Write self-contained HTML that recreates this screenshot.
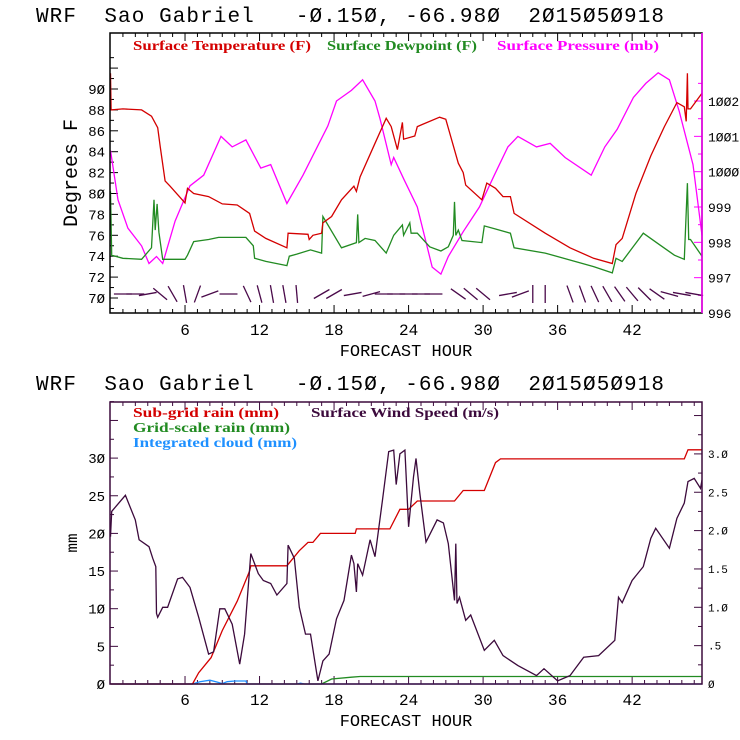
<!DOCTYPE html>
<html><head><meta charset="utf-8"><style>
html,body{margin:0;padding:0;background:#fff;width:740px;height:740px;overflow:hidden}
svg text{font-family:"Liberation Mono",monospace;white-space:pre}
.lg{font-family:"Liberation Serif",serif;font-size:14px;font-weight:bold}
</style></head><body>
<svg id="c" width="740" height="740" viewBox="0 0 740 740">
<text x="36" y="22" font-size="21" textLength="628" xml:space="preserve">WRF  Sao Gabriel   -Ø.15Ø, -66.98Ø  2Ø15Ø5Ø918</text>
<text x="36" y="390" font-size="21" textLength="628" xml:space="preserve">WRF  Sao Gabriel   -Ø.15Ø, -66.98Ø  2Ø15Ø5Ø918</text>
<g id="topchart"></g>
<g id="botchart"></g>
</svg>
<script>
// ---- top chart data ----
const tempHours=[0,0.05,1,2.5,3.3,3.8,4,4.4,4.8,6,6.2,6.7,7.9,9,10.2,11.2,11.6,12.5,14.2,14.3,15.9,16,16.3,17,17.1,17.8,18.6,19.6,19.8,20.1,21.3,22.2,22.6,23.1,23.5,23.6,24.5,24.7,25.1,26.5,27,28,28.4,28.6,29.9,30.3,31,31.6,32.2,32.5,35,37,38.9,40.4,40.7,41.2,42.3,43.5,44.6,45.6,46.2,46.35,46.45,46.5,46.7,48];
const tempVals=[91.5,88,88.1,88,87.4,86.3,84.5,81.2,80.7,79.1,80.5,80,79.7,79,78.9,78.1,76.4,75.7,74.8,76.2,76.1,75.6,76,76.2,77.2,77.8,79.4,80.7,80.2,81.6,84.8,87.2,86.4,84.2,86.8,85.2,85.5,86.4,86.6,87.3,87.1,82.9,82,80.8,79.4,81,80.5,79.7,79.7,78.1,76.2,74.8,73.8,73.3,75.1,75.7,80,83.6,86.4,88.7,88.3,86.9,91.5,88.1,88.1,89.6];
const dewHours=[0,0.1,1,2.5,3.3,3.5,3.6,3.75,3.9,4.2,6,6.2,6.7,7.9,8.7,10.9,11.5,11.6,12.5,14.2,14.4,15,16.1,17,17.1,18.6,19.8,19.9,20,20.5,21.3,22.2,22.8,23.5,23.6,24.1,24.2,24.7,25.7,26.6,27.2,27.6,27.7,27.8,28,28.3,29.9,30.1,31,32.2,32.5,35,38.9,40.4,40.7,41.2,42.9,44.2,45.4,46.2,46.45,46.55,46.7,48];
const dewVals=[80.2,74.1,73.8,73.7,74.8,79.4,76.5,79,76.3,73.7,73.7,74.1,75.4,75.6,75.8,75.8,75,73.8,73.5,73.1,74,74.2,74.6,74.3,77.8,74.8,75.3,78,75.3,75.7,75.5,74.3,76,77,76,77.2,76.2,76.2,74.9,74.5,74.9,76,79.2,76,76.5,75.5,75.3,76.9,76.6,76.2,74.8,74.3,73,72.4,73.8,73.5,76.2,75.1,74.1,73.7,81,75.6,75.6,74];
const presHours=[0,0.6,1.4,2.5,3.1,3.7,4.2,5.2,6.4,7.5,8.9,9.8,10.9,12.1,12.9,14.2,15.5,17.5,18.2,19.4,20.3,21.3,21.7,22.6,22.8,23.6,24.7,25.9,26.6,27.2,28.4,29.7,30.9,32,32.8,34.3,35.4,36.6,38.7,39.8,40.8,42.1,43.1,44.1,45,45.8,46.9,48];
const presVals=[1000.6,999.2,998.4,997.9,997.4,997.6,997.4,998.6,999.6,999.9,1001,1000.7,1000.9,1000.1,1000.2,999.1,999.9,1001.3,1002,1002.3,1002.6,1002,1001.5,1000.2,1000.4,999.8,999,997.3,997.1,997.6,998.3,999,999.9,1000.7,1001,1000.7,1000.8,1000.4,999.9,1000.7,1001.2,1002.1,1002.5,1002.8,1002.6,1001.7,1000.2,998.2];
const barbHours=[1,2,3,4,5,6,7,8,9.5,11,12,13,14,15,17,18,19.5,21,22,23,24,25,26,28,29,30,32,33,34,35,37,38,39,40,41,42,43,44,45,46,47];
const barbAngles=[0,0,-10,40,60,80,-70,-20,0,65,75,80,80,85,-30,-30,-10,-15,0,0,0,0,0,35,40,40,-10,-20,90,90,70,70,65,60,55,50,45,35,15,10,10];
const tempTicks=[70,72,74,76,78,80,82,84,86,88,90];
const presTicks=[996,997,998,999,1000,1001,1002];
const hourTicks=[6,12,18,24,30,36,42];
// ---- bottom chart data ----
const subHours=[0,6.6,7.1,8.1,9,10.2,11.2,11.3,14.2,15.2,15.9,16.3,16.9,19.7,19.8,22.5,23.3,24,24.7,27.7,28.4,30.1,31,31.4,46.2,46.5,48];
const subVals=[0,0,1.5,3.5,7.1,11,15,15.7,15.7,17.7,18.8,18.8,20,20,20.6,20.6,23.2,23.2,24.3,24.3,25.7,25.7,29.4,29.9,29.9,31.1,31.1];
const gridHours=[0,17,17.8,19.4,20.1,48];
const gridVals=[0,0,0.66,0.9,1.0,1.0];
const cloudHours=[0,6.6,7.2,8,8.6,9,9.4,10,10.9,11,15,15.3,15.6,48];
const cloudVals=[0,0,0.3,0.5,0.25,0.05,0.3,0.4,0.4,0,0,0.1,0,0];
const windHours=[0,0.1,1.2,2,2.3,3.1,3.4,3.65,3.7,3.8,4.2,4.6,5.4,5.8,6.4,7.1,7.9,8.3,8.8,9.2,9.8,10.4,10.8,11.3,11.9,12.3,12.9,13.4,14.2,14.3,14.8,15.2,15.7,16.1,16.7,17.1,17.6,18.2,18.8,19.4,19.6,19.8,19.9,20.3,20.9,21.3,21.9,22.4,22.8,23,23.3,23.7,24,24.4,24.6,24.9,25.4,26.3,26.8,27.2,27.7,27.8,27.9,28.1,28.6,29,30.1,30.9,31.6,32.8,34.3,34.9,36,37,38.1,39.3,40.6,40.9,41.2,42,42.9,43.5,43.9,45,45.6,46.2,46.5,47,47.5,48];
const windVals=[1.92,2.25,2.46,2.14,1.88,1.79,1.64,1.53,0.92,0.87,1.0,1.0,1.37,1.39,1.26,0.87,0.39,0.42,0.98,0.98,0.78,0.26,0.65,1.7,1.44,1.35,1.31,1.16,1.31,1.81,1.64,1.0,0.65,0.65,0.04,0.3,0.39,0.85,1.09,1.68,1.57,1.2,1.57,1.42,1.88,1.66,2.4,3.03,3.05,2.6,3.0,3.05,2.05,2.7,2.94,2.49,1.85,2.14,2.1,1.83,1.09,1.83,1.05,1.13,0.83,0.9,0.44,0.57,0.37,0.24,0.11,0.2,0.04,0.11,0.35,0.37,0.57,1.13,1.06,1.35,1.53,1.9,2.03,1.77,2.16,2.36,2.64,2.68,2.55,2.66];
const mmTicks=[0,5,10,15,20,25,30];
const windTickVals=[0,0.5,1,1.5,2,2.5,3];
const windTickLabels=["Ø",".5","1.Ø","1.5","2.Ø","2.5","3.Ø"];

const NS="http://www.w3.org/2000/svg";
const L=110,R=702;
const x=h=>110.5+h*12.42;
const yT=t=>298-(t-70)*10.45;
const yP=p=>313-(p-996)*35.33;
const yM=m=>684-m*7.53;
const yW=w=>684-w*76.7;
function mk(parent,tag,attrs){const e=document.createElementNS(NS,tag);for(const k in attrs)e.setAttribute(k,attrs[k]);parent.appendChild(e);return e;}
function series(parent,hs,vs,yf,color,name){
  const d=hs.map((h,i)=>(i?'L':'M')+Math.min(x(h),R).toFixed(1)+','+yf(vs[i]).toFixed(1)).join('');
  const p=mk(parent,'path',{d:d,fill:'none',stroke:color,'stroke-width':1.3});
  
  
}
function txt(parent,xx,yy,s,opt){const t=mk(parent,'text',Object.assign({x:xx,y:yy},opt||{}));t.textContent=s;return t;}

// ---- TOP ----
const topG=document.getElementById('topchart');
const T0=33,T1=313;
for(let h=1;h<48;h++){const len=h%6===0?8:4;
  mk(topG,'line',{x1:x(h),x2:x(h),y1:T1,y2:T1-len,stroke:'#000'});
  mk(topG,'line',{x1:x(h),x2:x(h),y1:T0,y2:T0+len,stroke:'#000'});}
for(let t=69;t<=93;t++){const len=t%2===0?8:4;mk(topG,'line',{x1:L,x2:L+len,y1:yT(t),y2:yT(t),stroke:'#000'});}
for(let p=996;p<=1002.5;p+=0.5){const len=p%1===0?8:4;mk(topG,'line',{x1:R,x2:R-len,y1:yP(p),y2:yP(p),stroke:'#f0f'});}
tempTicks.forEach(t=>{const e=txt(topG,105,yT(t)+5,String(t).replace(/0/g,'Ø'),{'font-size':14,'text-anchor':'end'});
  
  });
presTicks.forEach(p=>{const e=txt(topG,708,yP(p)+5,String(p).replace(/0/g,'Ø'),{'font-size':13});
  
  });
hourTicks.forEach(h=>{const e=txt(topG,x(h),335,String(h),{'font-size':16,'text-anchor':'middle'});
  
  });
txt(topG,406,356,'FORECAST HOUR',{'font-size':17,'text-anchor':'middle'});
txt(topG,0,0,'Degrees F',{'font-size':20,'text-anchor':'middle',transform:'translate(77,173) rotate(-90)'});
series(topG,presHours,presVals,yP,'#ff00ff','pressure-line');
series(topG,dewHours,dewVals,yT,'#228b22','dewpoint-line');
series(topG,tempHours,tempVals,yT,'#d40000','temperature-line');
barbHours.forEach((h,i)=>{const a=barbAngles[i]*Math.PI/180,l=9,cx=x(h),cy=294;
  const b=mk(topG,'line',{x1:cx-l*Math.cos(a),y1:cy-l*Math.sin(a),x2:cx+l*Math.cos(a),y2:cy+l*Math.sin(a),stroke:'#4a0a4a','stroke-width':1.3});
  
  });
mk(topG,'rect',{x:L,y:T0,width:R-L,height:T1-T0,fill:'none',stroke:'#000','stroke-width':1.5});
mk(topG,'line',{x1:R,x2:R,y1:T0,y2:T1,stroke:'#f0f','stroke-width':1.5});
const lg1=[['Surface Temperature (F)','#d40000',133,178],['Surface Dewpoint (F)','#228b22',327,150],['Surface Pressure (mb)','#ff00ff',497,162]];
lg1.forEach(l=>{const e=txt(topG,l[2],50,l[0],{fill:l[1],class:'lg',textLength:l[3],lengthAdjust:'spacingAndGlyphs'});});

// ---- BOTTOM ----
const botG=document.getElementById('botchart');
const B0=402,B1=684,pc='#3c0a3c';
for(let h=1;h<48;h++){const len=h%6===0?8:4;
  mk(botG,'line',{x1:x(h),x2:x(h),y1:B1,y2:B1-len,stroke:pc});
  mk(botG,'line',{x1:x(h),x2:x(h),y1:B0,y2:B0+len,stroke:pc});}
for(let m=0;m<=37.5;m+=2.5){const len=m%5===0?8:4;mk(botG,'line',{x1:L,x2:L+len,y1:yM(m),y2:yM(m),stroke:pc});}
for(let w=0;w<=3.6;w+=0.25){const len=(Math.round(w*100)%50===0)?8:4;mk(botG,'line',{x1:R,x2:R-len,y1:yW(w),y2:yW(w),stroke:pc});}
mmTicks.forEach(m=>{const e=txt(botG,105,yM(m)+5,String(m).replace(/0/g,'Ø'),{'font-size':14,'text-anchor':'end'});
  
  });
windTickVals.forEach((w,i)=>{const e=txt(botG,708,yW(w)+4,windTickLabels[i],{'font-size':11});
  
  });
hourTicks.forEach(h=>{const e=txt(botG,x(h),705,String(h),{'font-size':16,'text-anchor':'middle'});
  
  });
txt(botG,406,726,'FORECAST HOUR',{'font-size':17,'text-anchor':'middle'});
txt(botG,0,0,'mm',{'font-size':16,'text-anchor':'middle',transform:'translate(77,543) rotate(-90)'});
series(botG,gridHours,gridVals,yM,'#228b22','grid-rain-line');
series(botG,cloudHours,cloudVals,yM,'#1e90ff','cloud-line');
series(botG,subHours,subVals,yM,'#d40000','subgrid-rain-line');
series(botG,windHours,windVals,yW,'#3c0a3c','wind-speed-line');
mk(botG,'rect',{x:L,y:B0,width:R-L,height:B1-B0,fill:'none',stroke:pc,'stroke-width':1.5});
const lg2=[['Sub-grid rain (mm)','#d40000',133,417,146],['Surface Wind Speed (m/s)','#3c0a3c',311,417,188],['Grid-scale rain (mm)','#228b22',133,432,157],['Integrated cloud (mm)','#1e90ff',133,447,164]];
lg2.forEach(l=>{const e=txt(botG,l[2],l[3],l[0],{fill:l[1],class:'lg',textLength:l[4],lengthAdjust:'spacingAndGlyphs'});});
</script>
</body></html>
